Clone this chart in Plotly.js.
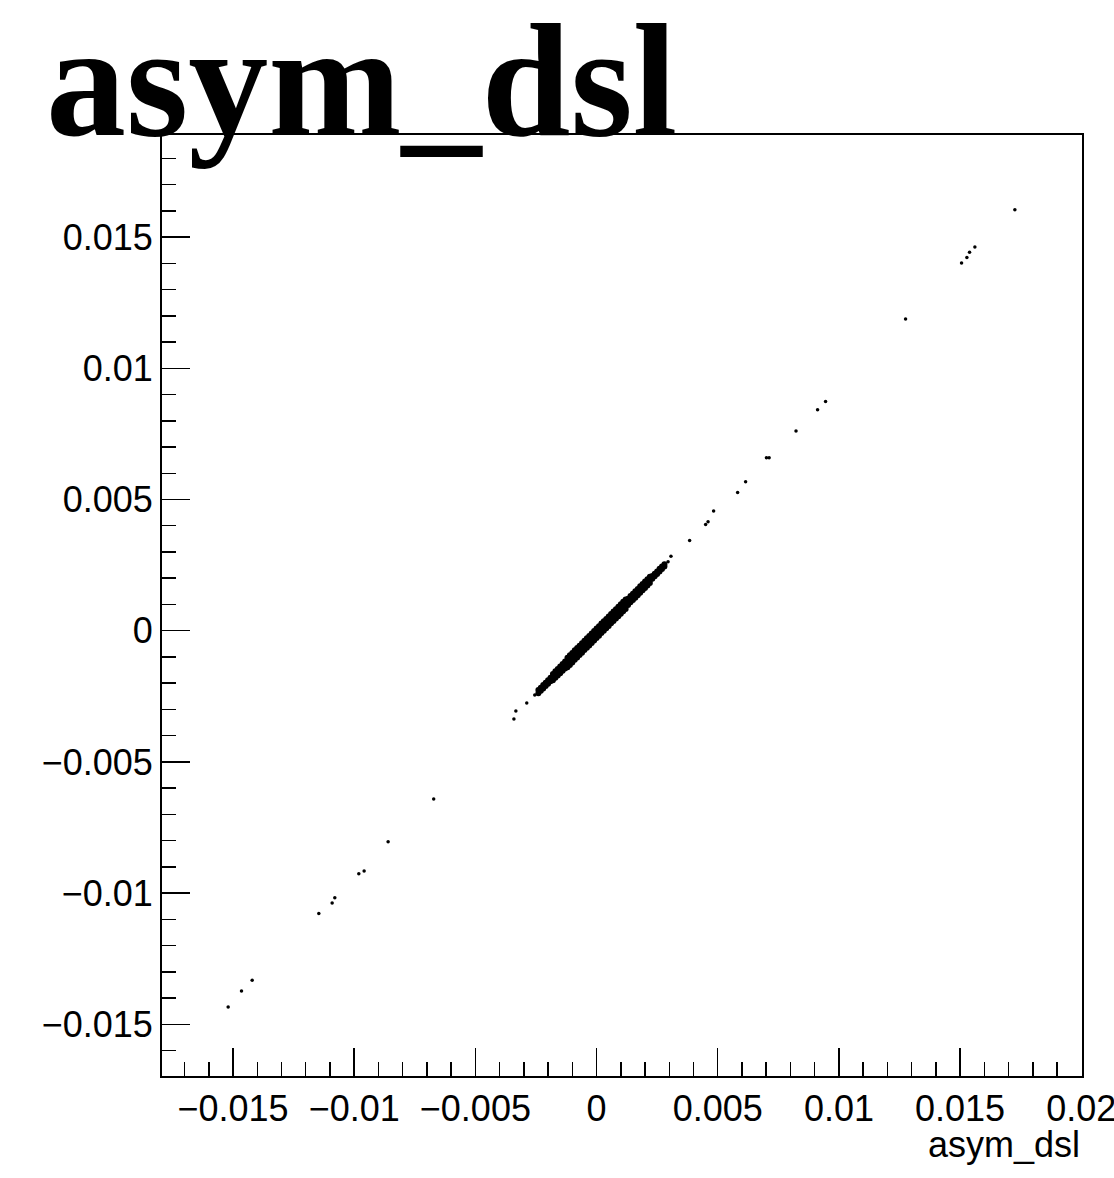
<!DOCTYPE html>
<html>
<head>
<meta charset="utf-8">
<script src="https://cdn.plot.ly/plotly-3.0.1.min.js"></script>
<style>html,body{margin:0;padding:0;background:#fff;}#chart{width:1114px;height:1178px;}</style>
</head>
<body>
<div id="chart"></div>
<script>
// Dense core of the scatter: x column positions and the y values seen in each column
const coreColX = [-0.0024,-0.0023,-0.0022,-0.0021,-0.0020,-0.0019,
  -0.0018,-0.0017,-0.0016,-0.0015,-0.0014,-0.0013,
  -0.0012,-0.0011,-0.0010,-0.0009,-0.0008,-0.0007,-0.0006,-0.0005,-0.0004,-0.0003,-0.0002,-0.0001,
  0.0000,0.0001,0.0002,0.0003,0.0004,0.0005,0.0006,0.0007,0.0008,0.0009,0.0010,0.0011,0.0012,
  0.0013,0.0014,0.0015,0.0016,0.0017,0.0018,0.0019,0.0020,0.0021,0.0022,
  0.0023,0.0024,0.0025,0.0026,0.0027,0.0028];
const coreColY = [
  [-0.00238,-0.00226],[-0.00229,-0.00217],[-0.00220,-0.00207],[-0.00211,-0.00198],[-0.00202,-0.00189],[-0.00193,-0.00179],
  [-0.00189,-0.00177,-0.00165],[-0.00179,-0.00168,-0.00155],[-0.00171,-0.00158,-0.00146],[-0.00162,-0.00149,-0.00136],[-0.00153,-0.00140,-0.00127],[-0.00144,-0.00131,-0.00117],
  [-0.00139,-0.00127,-0.00115,-0.00103],[-0.00131,-0.00118,-0.00106,-0.00094],[-0.00121,-0.00109,-0.00097,-0.00085],
  [-0.00111,-0.00099,-0.00087,-0.00075],[-0.00102,-0.00090,-0.00078,-0.00066],[-0.00093,-0.00081,-0.00069,-0.00057],
  [-0.00084,-0.00072,-0.00060,-0.00048],[-0.00074,-0.00062,-0.00050,-0.00038],[-0.00065,-0.00053,-0.00041,-0.00029],
  [-0.00056,-0.00044,-0.00032,-0.00020],[-0.00047,-0.00035,-0.00023,-0.00011],[-0.00037,-0.00025,-0.00013,-0.00001],
  [-0.00028,-0.00016,-0.00004,0.00008],[-0.00019,-0.00007,0.00005,0.00017],[-0.00009,0.00003,0.00015,0.00027],
  [0.00000,0.00012,0.00024,0.00036],[0.00009,0.00021,0.00033,0.00045],[0.00018,0.00030,0.00042,0.00054],
  [0.00028,0.00040,0.00052,0.00064],[0.00037,0.00049,0.00061,0.00073],[0.00046,0.00058,0.00070,0.00082],
  [0.00055,0.00067,0.00079,0.00091],[0.00065,0.00077,0.00089,0.00101],[0.00074,0.00086,0.00098,0.00110],
  [0.00083,0.00095,0.00107,0.00119],
  [0.00098,0.00110,0.00122],[0.00108,0.00120,0.00132],[0.00117,0.00129,0.00141],[0.00126,0.00138,0.00150],
  [0.00135,0.00147,0.00159],[0.00145,0.00157,0.00169],[0.00154,0.00166,0.00178],[0.00163,0.00175,0.00187],
  [0.00172,0.00184,0.00196],[0.00182,0.00194,0.00206],
  [0.00198,0.00208],[0.00207,0.00217],[0.00216,0.00226],[0.00226,0.00236],[0.00235,0.00245],[0.00245,0.00253]
];

// Isolated points
const outX = [0.01726,0.01561,0.01539,0.01528,0.01506,0.01275,
  0.00945,0.00912,0.00823,0.00701,0.00712,0.00615,0.00582,0.00483,0.00460,0.00450,0.00384,0.00307,0.00295,
  -0.00255,-0.00288,-0.00333,-0.00341,
  -0.00672,-0.00860,-0.00959,-0.00981,-0.01080,-0.01091,-0.01146,-0.01421,-0.01465,-0.01520];
const outY = [0.01604,0.01462,0.01442,0.01422,0.01401,0.01188,
  0.00873,0.00842,0.00761,0.00659,0.00659,0.00568,0.00527,0.00456,0.00415,0.00405,0.00344,0.00284,0.00263,
  -0.00245,-0.00276,-0.00306,-0.00337,
  -0.00641,-0.00804,-0.00916,-0.00926,-0.01018,-0.01038,-0.01078,-0.01332,-0.01373,-0.01434];

const titleText = "asym_dsl";
const xTitleText = "asym_dsl";

// build core point table
const coreX = [], coreY = [];
coreColX.forEach((x, i) => coreColY[i].forEach(y => { coreX.push(x); coreY.push(y); }));

const tickFont = {family: "Liberation Sans, Arial, sans-serif", size: 36, color: "#000"};

const axisCommon = {
  showgrid: false, zeroline: false, showline: true, linecolor: "#000", linewidth: 2,
  mirror: true, ticks: "inside", ticklen: 28, tickwidth: 1.5, tickcolor: "#000",
  dtick: 0.005, tick0: 0, tickfont: tickFont, ticklabeloverflow: "allow",
  minor: {ticks: "inside", ticklen: 14, tickwidth: 1.5, tickcolor: "#000", dtick: 0.001, tick0: 0, showgrid: false}
};

const data = [
  {type: "scatter", mode: "markers", x: coreX, y: coreY, hoverinfo: "skip",
   marker: {color: "#000", size: 6}, showlegend: false},
  {type: "scatter", mode: "markers", x: outX, y: outY,
   marker: {color: "#000", size: 3.5}, showlegend: false}
];

const layout = {
  width: 1114, height: 1178,
  paper_bgcolor: "#fff", plot_bgcolor: "#fff",
  margin: {l: 162, r: 32, t: 135, b: 102},
  title: {text: titleText, font: {family: "Liberation Serif, Times New Roman, serif", size: 160, color: "#000", weight: "bold"},
          xref: "container", x: 46/1114, xanchor: "left", yref: "container", y: 1 - 135/1178, yanchor: "bottom", pad: {t:0,b:0,l:0,r:0}},
  xaxis: Object.assign({}, axisCommon, {range: [-0.01793, 0.02003]}),
  yaxis: Object.assign({}, axisCommon, {range: [-0.01697, 0.01889]}),
  annotations: [{text: xTitleText, xref: "paper", yref: "paper", x: 1, y: -0.049, xanchor: "right", yanchor: "top",
    showarrow: false, font: {family: "Liberation Sans, Arial, sans-serif", size: 36, color: "#000"}}]
};

Plotly.newPlot("chart", data, layout, {displayModeBar: false, staticPlot: true});
</script>
</body>
</html>
